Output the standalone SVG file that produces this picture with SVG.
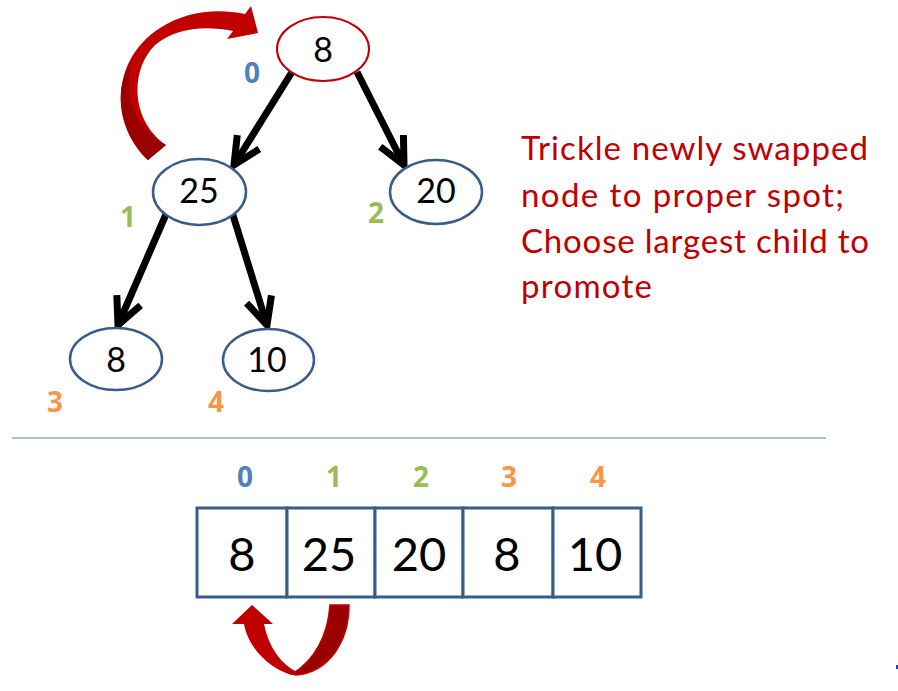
<svg xmlns="http://www.w3.org/2000/svg" width="898" height="691" viewBox="0 0 898 691">
<style>
.node{fill:#fff;stroke:#385D8A;stroke-width:2.5}
.root{fill:#fff;stroke:#C00000;stroke-width:2}
.nt{font-family:Lato,"Liberation Sans",sans-serif;font-size:34px;fill:#000;text-anchor:middle}
.at{font-family:Lato,"Liberation Sans",sans-serif;font-size:47px;fill:#000;text-anchor:middle}
.ix{font-family:"Open Sans","Liberation Sans",sans-serif;font-size:28px;font-weight:bold;text-anchor:middle}
.b{fill:#4F81BD}.g{fill:#9BBB59}.o{fill:#F79646}
.edge{stroke:#000;stroke-width:7;fill:none;marker-end:url(#chev)}
.cell{fill:#fff;stroke:#385D8A;stroke-width:3}
.note{font-family:Lato,"Liberation Sans",sans-serif;font-size:33px;fill:#C00000}
</style>
<defs>
<marker id="chev" markerUnits="userSpaceOnUse" viewBox="-32 -18 36 36" refX="0" refY="0" markerWidth="36" markerHeight="36" orient="auto">
<path d="M-27,-13 L0,0 L-27,13" fill="none" stroke="#000" stroke-width="7" stroke-linejoin="miter"/>
</marker>
</defs>
<rect width="898" height="691" fill="#fff"/>

<g id="swap-arrow-top">
<path d="M148,160 C110,125 110,60 160,28 C185,12 215,8 245,14 L251,6 L258,33 L227,39 L233,31 C205,25 175,28 155,45 C130,70 130,120 166,145 Z" fill="#C00000"/>
<path d="M131,62 C124,95 132,125 166,145 L148,160 C122,135 116,100 124,78 Z" fill="#9A0000"/>
</g>

<g id="connectors">
<line class="edge" x1="292" y1="72" x2="234" y2="165"/>
<line class="edge" x1="357" y1="72" x2="404" y2="165"/>
<line class="edge" x1="167" y1="212" x2="118" y2="325"/>
<line class="edge" x1="232" y1="212" x2="267" y2="325"/>
</g>

<g id="node0"><ellipse class="root" cx="323" cy="49" rx="46" ry="32"/><text class="nt" x="323" y="62">8</text><text class="ix b" x="252" y="83">0</text></g>
<g id="node1"><ellipse class="node" cx="199.5" cy="192" rx="46.5" ry="33"/><text class="nt" x="199" y="203">25</text><text class="ix g" x="128" y="227">1</text></g>
<g id="node2"><ellipse class="node" cx="436" cy="192" rx="46" ry="32"/><text class="nt" x="436" y="203">20</text><text class="ix g" x="376" y="223">2</text></g>
<g id="node3"><ellipse class="node" cx="116" cy="359" rx="46" ry="31"/><text class="nt" x="116" y="372">8</text><text class="ix o" x="55" y="412">3</text></g>
<g id="node4"><ellipse class="node" cx="268.5" cy="360" rx="45.5" ry="31"/><text class="nt" x="267" y="372">10</text><text class="ix o" x="216" y="412">4</text></g>

<g id="note">
<text class="note" x="521" y="160" textLength="347" lengthAdjust="spacing">Trickle newly swapped</text>
<text class="note" x="521" y="207" textLength="323" lengthAdjust="spacing">node to proper spot;</text>
<text class="note" x="521" y="253" textLength="348" lengthAdjust="spacing">Choose largest child to</text>
<text class="note" x="521" y="298" textLength="131" lengthAdjust="spacing">promote</text>
</g>

<line id="separator" x1="12" y1="438" x2="826" y2="438" stroke="#4F81BD" stroke-width="1"/>

<g id="array">
<rect class="cell" x="197" y="508" width="90" height="89"/>
<rect class="cell" x="287" y="508" width="88" height="89"/>
<rect class="cell" x="375" y="508" width="88" height="89"/>
<rect class="cell" x="463" y="508" width="90" height="89"/>
<rect class="cell" x="553" y="508" width="88" height="89"/>
<text class="at" x="242" y="571">8</text>
<text class="at" x="329" y="571">25</text>
<text class="at" x="419" y="571">20</text>
<text class="at" x="507" y="571">8</text>
<text class="at" x="595" y="571">10</text>
<text class="ix b" x="245" y="487">0</text>
<text class="ix g" x="334" y="487">1</text>
<text class="ix g" x="421" y="487">2</text>
<text class="ix o" x="509" y="487">3</text>
<text class="ix o" x="598" y="487">4</text>
</g>

<g id="swap-arrow-bottom">
<path d="M252,605 L273,624 L264,624 C269,648 281,664 297,672 L292,675 C271,669 249,650 244,624 L232,624 Z" fill="#C00000"/>
<path d="M330,605 L349,605 C349,640 330,672 296,675 L292,674 C315,660 328,635 330,605 Z" fill="#9A0000" stroke="#C00000" stroke-width="1.5"/>
</g>

<rect x="896" y="665" width="2" height="4" fill="#2040C0"/>
</svg>
